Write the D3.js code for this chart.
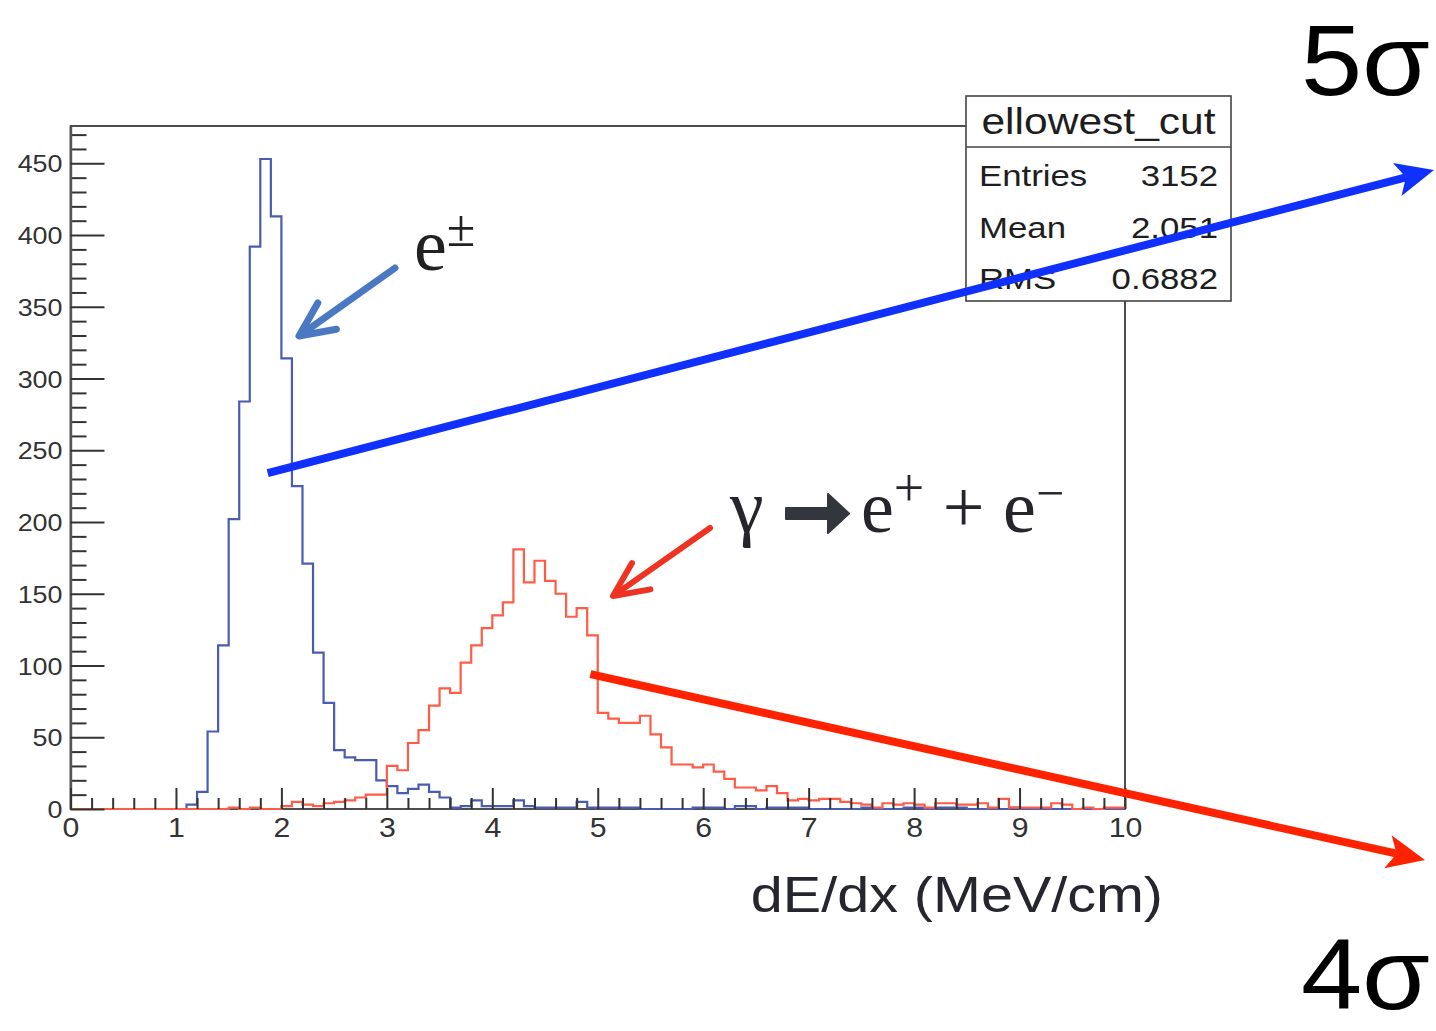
<!DOCTYPE html>
<html>
<head>
<meta charset="utf-8">
<script src="https://cdn.jsdelivr.net/npm/d3@7"></script>
<style>
  html, body { margin: 0; padding: 0; background: #ffffff; }
  svg { display: block; }
</style>
</head>
<body>
<svg id="chart" width="1436" height="1031"></svg>
<script>
// dE/dx spectra, 100 bins of 0.1 MeV/cm between 0 and 10
const binLow = 0;
const binWidth = 0.1;

// e± candidates (bin contents)
const electronCounts = [
  0, 0, 0, 0, 0, 0, 0, 0, 0, 0,
  0, 3, 12, 54, 114, 202, 284, 392, 453, 413,
  314, 225, 171, 109, 74, 41, 36, 34, 34, 20,
  16, 11, 14, 17, 12, 8, 1, 2, 6, 2,
  2, 2, 6, 2, 1, 1, 1, 1, 5, 1,
  1, 1, 1, 1, 0, 0, 0, 0, 0, 1,
  1, 1, 0, 2, 2, 0, 1, 1, 1, 1,
  0, 0, 0, 0, 0, 1, 0, 0, 0, 1,
  1, 0, 1, 1, 1, 0, 0, 0, 0, 1,
  0, 0, 0, 0, 0, 0, 0, 0, 0, 0
];

// photon conversions gamma -> e+ e- (bin contents)
const conversionCounts = [
  0, 0, 0, 0, 0, 0, 0, 0, 0, 0,
  0, 0, 0, 0, 0, 1, 0, 1, 0, 0,
  2, 5, 3, 2, 4, 5, 6, 8, 10, 10,
  30, 27, 46, 55, 72, 84, 81, 102, 114, 126,
  135, 144, 181, 158, 173, 159, 150, 134, 140, 121,
  67, 63, 60, 60, 65, 52, 43, 31, 31, 29,
  31, 26, 21, 15, 15, 13, 16, 11, 6, 7,
  6, 7, 7, 5, 4, 3, 1, 4, 3, 4,
  3, 1, 4, 4, 3, 3, 4, 1, 7, 1,
  1, 1, 1, 4, 3, 0, 1, 0, 1, 1
];

const xMajorTicks = [0, 1, 2, 3, 4, 5, 6, 7, 8, 9, 10];
const yMajorTicks = [0, 50, 100, 150, 200, 250, 300, 350, 400, 450];
const xAxisTitle = "dE/dx (MeV/cm)";

const statsTitle = "ellowest_cut";
const statsNames = ["Entries", "Mean", "RMS"];
const statsValues = ["3152", "2.051", "0.6882"];

const sansFont = "'Liberation Sans', Arial, Helvetica, sans-serif";
const serifFont = "'Liberation Serif', 'Times New Roman', serif";

const svg = d3.select("#chart");

const frame = { left: 70.5, right: 1125, top: 126, bottom: 809 };
const x = d3.scaleLinear().domain([0, 10]).range([frame.left, frame.right]);
const y = d3.scaleLinear().domain([0, 476]).range([frame.bottom, frame.top]);

// soft filter for the faint marks under the axis title
const defs = svg.append("defs");
defs.append("filter").attr("id", "soft")
  .append("feGaussianBlur").attr("stdDeviation", 1.4);

// horizontally widened text, as the canvas was stretched
function wideText(parent, px, py, str, size, sx, anchor, opts = {}) {
  const g = parent.append("g").attr("transform", `translate(${px},${py}) scale(${sx},1)`);
  return g.append("text")
    .attr("x", 0).attr("y", 0)
    .attr("text-anchor", anchor)
    .attr("font-family", opts.family || sansFont)
    .attr("font-size", size)
    .attr("fill", opts.fill || "#222")
    .text(str);
}

// ---------- frame ----------
svg.append("rect")
  .attr("x", frame.left).attr("y", frame.top)
  .attr("width", frame.right - frame.left)
  .attr("height", frame.bottom - frame.top)
  .attr("fill", "none")
  .attr("stroke", "#222")
  .attr("stroke-width", 1.6);

// ---------- histograms ----------
function stepPoints(counts) {
  const pts = counts.map((c, i) => [binLow + i * binWidth, c]);
  pts.push([binLow + counts.length * binWidth, counts[counts.length - 1]]);
  return pts;
}
const stepLine = d3.line()
  .x(d => x(d[0]))
  .y(d => y(d[1]))
  .curve(d3.curveStepAfter);

svg.append("path")
  .datum(stepPoints(electronCounts))
  .attr("d", stepLine)
  .attr("fill", "none")
  .attr("stroke", "#4a5cb2")
  .attr("stroke-width", 2.2);

svg.append("path")
  .datum(stepPoints(conversionCounts))
  .attr("d", stepLine)
  .attr("fill", "none")
  .attr("stroke", "#ff5b46")
  .attr("stroke-width", 2.2);

// ---------- axes ----------
const axisColor = "#333";

// y axis: major ticks every 50, minor every 10, all pointing inward
const yMinor = d3.range(0, 476, 10).filter(v => v % 50 !== 0);
const yMinorG = svg.append("g").attr("transform", `translate(${frame.left},0)`)
  .call(d3.axisLeft(y).tickValues(yMinor).tickSizeInner(-16).tickSizeOuter(0).tickFormat(""));
yMinorG.select(".domain").remove();

const yAxisG = svg.append("g").attr("transform", `translate(${frame.left},0)`)
  .call(d3.axisLeft(y).tickValues(yMajorTicks).tickSizeInner(-34).tickSizeOuter(0).tickPadding(8));
yAxisG.select(".domain").attr("stroke", "#555").attr("stroke-width", 2.4);

[yMinorG, yAxisG].forEach(g => g.selectAll(".tick line").attr("stroke", axisColor).attr("stroke-width", 2));
yAxisG.selectAll(".tick text")
  .attr("font-family", sansFont)
  .attr("font-size", 24)
  .attr("fill", "#333")
  .attr("dy", "0.36em")
  .attr("x", -8 / 1.12)
  .attr("transform", "scale(1.12,1)");

// x axis: major ticks at integers, minor every 0.2
const xMinor = d3.range(1, 50).map(v => v * 0.2).filter(v => Math.abs(v - Math.round(v)) > 1e-6);
const xMinorG = svg.append("g").attr("transform", `translate(0,${frame.bottom})`)
  .call(d3.axisBottom(x).tickValues(xMinor).tickSizeInner(-11).tickSizeOuter(0).tickFormat(""));
xMinorG.select(".domain").remove();

const xAxisG = svg.append("g").attr("transform", `translate(0,${frame.bottom})`)
  .call(d3.axisBottom(x).tickValues(xMajorTicks).tickSizeInner(-21).tickSizeOuter(0).tickPadding(8).tickFormat(d3.format("d")));
xAxisG.select(".domain").remove();
[xMinorG, xAxisG].forEach(g => g.selectAll(".tick line").attr("stroke", axisColor).attr("stroke-width", 2));
xAxisG.selectAll(".tick text")
  .attr("font-family", sansFont)
  .attr("font-size", 28)
  .attr("fill", "#333")
  .attr("transform", "scale(1.08,1)");

// axis title
wideText(svg, 1163, 912, xAxisTitle, 50, 1.15, "end", { fill: "#26262e" });

// faint remnants below the axis
const faintMarks = [[122, 140], [145, 156], [165, 176], [330, 348], [355, 364], [372, 382]];
svg.append("g").attr("filter", "url(#soft)")
  .selectAll("line").data(faintMarks).join("line")
  .attr("x1", d => d[0]).attr("x2", d => d[1])
  .attr("y1", 930).attr("y2", 930)
  .attr("stroke", "#9a9a9a")
  .attr("stroke-width", 3);

// ---------- statistics box ----------
const box = { x: 966, y: 96, w: 265, h: 205, sep: 147 };
const statsG = svg.append("g");
statsG.append("rect")
  .attr("x", box.x).attr("y", box.y).attr("width", box.w).attr("height", box.h)
  .attr("fill", "#fff").attr("stroke", "#444").attr("stroke-width", 1.6);
statsG.append("line")
  .attr("x1", box.x).attr("x2", box.x + box.w)
  .attr("y1", box.sep).attr("y2", box.sep)
  .attr("stroke", "#444").attr("stroke-width", 1.4);
wideText(statsG, box.x + box.w / 2, 134, statsTitle, 37, 1.15, "middle", { fill: "#1e1e1e" });
statsNames.forEach((name, i) => {
  const base = 186 + i * 51.5;
  wideText(statsG, 979, base, name, 30, 1.16, "start", { fill: "#1e1e1e" });
  wideText(statsG, 1218, base, statsValues[i], 30, 1.16, "end", { fill: "#1e1e1e" });
});

// ---------- annotations ----------
function chevronArrow(x1, y1, x2, y2, color, width, barbLen, barbDeg) {
  const ang = Math.atan2(y1 - y2, x1 - x2);
  const a = barbDeg * Math.PI / 180;
  const b1 = [x2 + barbLen * Math.cos(ang - a), y2 + barbLen * Math.sin(ang - a)];
  const b2 = [x2 + barbLen * Math.cos(ang + a), y2 + barbLen * Math.sin(ang + a)];
  const g = svg.append("g").attr("stroke", color).attr("stroke-width", width)
    .attr("stroke-linecap", "round").attr("stroke-linejoin", "round").attr("fill", "none");
  g.append("line").attr("x1", x1).attr("y1", y1).attr("x2", x2 + 2 * Math.cos(ang)).attr("y2", y2 + 2 * Math.sin(ang));
  g.append("polyline").attr("points", [b1, [x2, y2], b2].map(p => p.join(",")).join(" "));
}

function bigArrow(x1, y1, x2, y2, color, width, headLen, headHalf, notch) {
  const ang = Math.atan2(y2 - y1, x2 - x1);
  const ux = Math.cos(ang), uy = Math.sin(ang);
  const nx = -uy, ny = ux;
  const bx = x2 - headLen * ux, by = y2 - headLen * uy;
  const notchX = bx + notch * ux, notchY = by + notch * uy;
  svg.append("line")
    .attr("x1", x1).attr("y1", y1).attr("x2", notchX).attr("y2", notchY)
    .attr("stroke", color).attr("stroke-width", width);
  svg.append("polygon")
    .attr("points", [
      [x2, y2],
      [bx + headHalf * nx, by + headHalf * ny],
      [notchX, notchY],
      [bx - headHalf * nx, by - headHalf * ny]
    ].map(p => p.join(",")).join(" "))
    .attr("fill", color);
}

// e± label and pointer
chevronArrow(395, 268, 299, 336, "#4a78c2", 7, 38, 25);
const ePm = svg.append("text")
  .attr("x", 414).attr("y", 270)
  .attr("font-family", serifFont).attr("font-size", 74).attr("fill", "#222");
ePm.append("tspan").text("e");
ePm.append("tspan").attr("font-size", 52).attr("dy", -24).text("±");

// conversion label and pointer
chevronArrow(710, 528, 613, 596, "#ee3322", 6, 38, 25);
const labelColor = "#25252b";
svg.append("text")
  .attr("x", 730).attr("y", 532)
  .attr("font-family", serifFont).attr("font-size", 76).attr("fill", labelColor)
  .text("γ");
// bold reaction arrow
svg.append("path")
  .attr("d", "M786,508 L828,508 L828,494 L849,513.5 L828,533 L828,519 L786,519 Z")
  .attr("fill", "#34363e").attr("stroke", "#34363e").attr("stroke-width", 2)
  .attr("stroke-linejoin", "round");
const rhs = svg.append("text")
  .attr("x", 861).attr("y", 532)
  .attr("font-family", serifFont).attr("font-size", 74).attr("fill", labelColor);
rhs.append("tspan").text("e");
rhs.append("tspan").attr("font-size", 54).attr("dy", -26).text("+");
rhs.append("tspan").attr("dy", 26).text(" + e");
rhs.append("tspan").attr("font-size", 50).attr("dy", -22).text("−");

// 5σ / 4σ separation arrows
bigArrow(x(1.87), y(234), 1434, 170, "#1030ff", 8, 38, 17, 9);
bigArrow(x(4.93), y(94), 1425, 860, "#ff2200", 8, 38, 17, 9);

wideText(svg, 1430, 95, "5σ", 100, 1.1, "end", { fill: "#000" });
wideText(svg, 1430, 1009, "4σ", 100, 1.1, "end", { fill: "#000" });
</script>
</body>
</html>
